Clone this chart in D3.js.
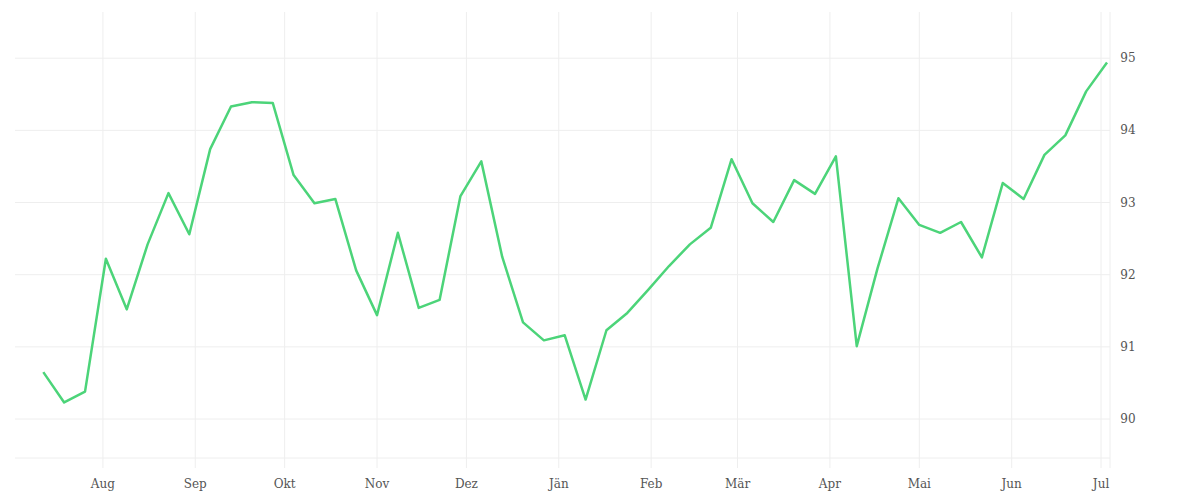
<!DOCTYPE html>
<html><head><meta charset="utf-8">
<script src="https://cdn.jsdelivr.net/npm/d3@7"></script>
<style>body{margin:0;background:#fff}text{font-family:"DejaVu Serif","Liberation Serif",serif;font-size:12px;fill:#555}</style>
</head><body><svg id="c" width="1200" height="500"></svg>
<script>
const startDate = "2023-07-12";
const values = [90.65,90.23,90.38,92.22,91.52,92.42,93.13,92.56,93.74,94.33,94.39,94.38,93.38,92.99,93.05,92.06,91.44,92.58,91.54,91.65,93.09,93.57,92.25,91.34,91.09,91.16,90.27,91.23,91.47,91.79,92.12,92.42,92.65,93.60,92.99,92.73,93.31,93.12,93.64,91.01,92.09,93.06,92.69,92.58,92.73,92.24,93.27,93.05,93.66,93.93,94.54,94.94];
const monthLabels = ["Aug","Sep","Okt","Nov","Dez","Jän","Feb","Mär","Apr","Mai","Jun","Jul"];
const yTicks = [90,91,92,93,94,95];

const t0 = new Date(startDate+"T00:00:00");
const data = values.map((v,i)=>({d:d3.timeDay.offset(t0,i*7),v}));
const svg = d3.select("#c");
const L=15,R=1110,T=12,B=458;
const x = d3.scaleTime().domain([new Date("2023-07-02T12:00:00"),new Date("2024-07-04T00:00:00")]).range([L,R]);
const y = d3.scaleLinear().domain([89.46,95.64]).range([B,T]);
const months = d3.range(12).map(i=>new Date(2023,7+i,1));

svg.append("g").selectAll("line").data(yTicks).join("line")
  .attr("x1",L).attr("x2",R).attr("y1",d=>y(d)).attr("y2",d=>y(d)).attr("stroke","#eee");
svg.append("line").attr("x1",L).attr("x2",R).attr("y1",B).attr("y2",B).attr("stroke","#eee");
svg.append("g").selectAll("line").data(months).join("line")
  .attr("x1",d=>x(d)).attr("x2",d=>x(d)).attr("y1",T).attr("y2",B+10).attr("stroke","#eee");
svg.append("line").attr("x1",R).attr("x2",R).attr("y1",T).attr("y2",B+10).attr("stroke","#eee");

svg.append("g").selectAll("text").data(months).join("text")
  .attr("x",d=>x(d)).attr("y",488).attr("text-anchor","middle").text((d,i)=>monthLabels[i]);
svg.append("g").selectAll("text").data(yTicks).join("text")
  .attr("x",1128).attr("y",d=>y(d)+4).attr("text-anchor","middle").text(d=>d);

svg.append("path").datum(data).attr("fill","none").attr("stroke","#4cd479").attr("stroke-width",2.5)
  .attr("stroke-linejoin","round")
  .attr("d",d3.line().x(d=>x(d.d)).y(d=>y(d.v)));
</script></body></html>
